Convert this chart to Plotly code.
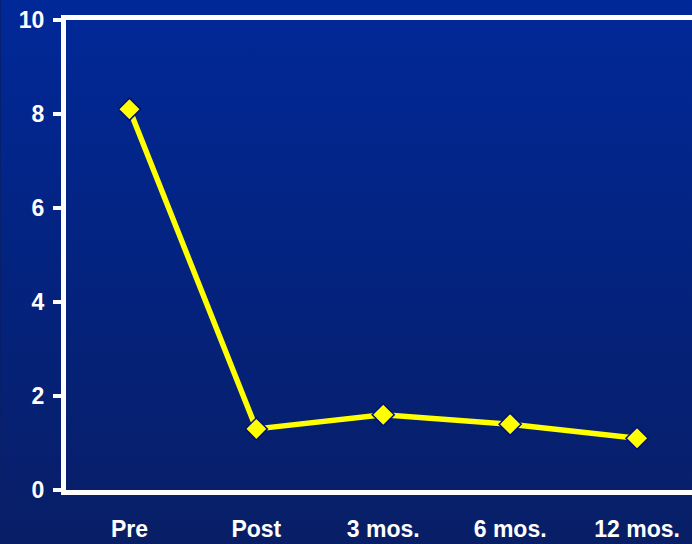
import base64
import plotly.graph_objects as go

categories = ["Pre", "Post", "3 mos.", "6 mos.", "12 mos."]
values = [8.1, 1.3, 1.6, 1.4, 1.1]
y_ticks = [0, 2, 4, 6, 8, 10]

W, H = 692, 544
ML, MR, MT, MB = 65.5, 0, 20, 54

svg = (
    '<svg xmlns="http://www.w3.org/2000/svg" width="10" height="100" preserveAspectRatio="none">'
    '<defs><linearGradient id="g" x1="0" y1="0" x2="0" y2="1">'
    '<stop offset="0" stop-color="#002898"/><stop offset="1" stop-color="#081e66"/>'
    '</linearGradient></defs><rect width="10" height="100" fill="url(#g)"/></svg>'
)
src = "data:image/svg+xml;base64," + base64.b64encode(svg.encode()).decode()

pw = W - ML - MR
ph = H - MT - MB

fig = go.Figure()
fig.add_trace(go.Scatter(
    x=categories, y=values, mode="lines+markers",
    line=dict(color="#ffff00", width=5.5),
    marker=dict(symbol="diamond", size=17, color="#ffff00",
                line=dict(color="#00107a", width=1.5)),
    showlegend=False, cliponaxis=False,
))

tfont = dict(family="Liberation Sans, Arial, sans-serif", size=23, color="white", weight="bold")

fig.update_layout(
    width=W, height=H,
    margin=dict(l=ML, r=MR, t=MT, b=MB, pad=0),
    paper_bgcolor="#081e66",
    plot_bgcolor="rgba(0,0,0,0)",
    font=dict(family="Liberation Sans, Arial, sans-serif", size=23, color="white"),
    images=[dict(
        source=src, xref="paper", yref="paper",
        x=-ML / pw, y=1 + MT / ph, sizex=W / pw, sizey=H / ph,
        xanchor="left", yanchor="top", sizing="stretch", layer="below",
    )],
    xaxis=dict(
        type="category", range=[-0.5, -0.5 + pw / 127.0],
        showline=True, linecolor="white", linewidth=5, mirror=True,
        showgrid=False, zeroline=False, ticks="",
        tickfont=tfont,
        ticklabelstandoff=14,
    ),
    yaxis=dict(
        range=[0, 10], tickvals=y_ticks,
        showline=True, linecolor="white", linewidth=5,
        showgrid=False, zeroline=False,
        ticks="outside", ticklen=8, tickwidth=4, tickcolor="white",
        tickfont=tfont,
        ticklabelstandoff=4,
    ),
)

fig.write_html("out.html")
